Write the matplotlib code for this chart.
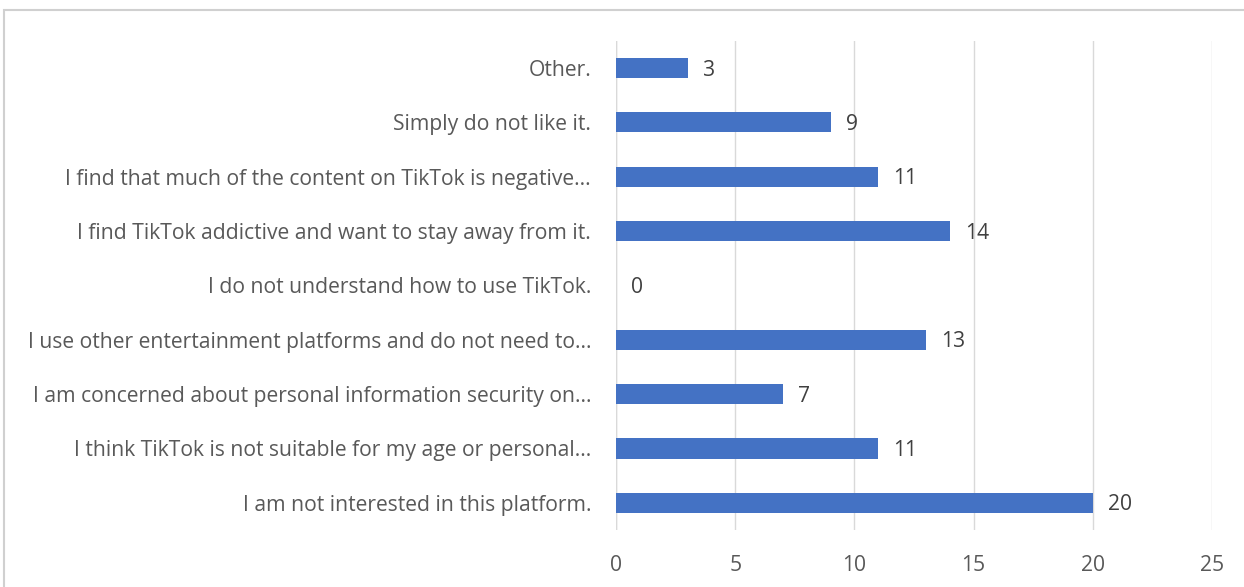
import matplotlib
matplotlib.use("Agg")
import matplotlib.pyplot as plt
from matplotlib.patches import Rectangle

categories = [
    "I am not interested in this platform.",
    "I think TikTok is not suitable for my age or personal...",
    "I am concerned about personal information security on...",
    "I use other entertainment platforms and do not need to...",
    "I do not understand how to use TikTok.",
    "I find TikTok addictive and want to stay away from it.",
    "I find that much of the content on TikTok is negative...",
    "Simply do not like it.",
    "Other.",
]
values = [20, 11, 7, 13, 0, 14, 11, 9, 3]
xticks = [0, 5, 10, 15, 20, 25]

plt.rcParams['font.family'] = ['Open Sans', 'DejaVu Sans']
fig = plt.figure(figsize=(12.44, 5.87), dpi=100)
ax = fig.add_axes([0.4952, 0.0971, 0.4791, 0.8334])

FS = 15.2
ypos = list(range(len(categories)))
ax.barh(ypos, values, height=0.37, color="#4472C4", zorder=3)
ax.set_xlim(0, 25)
ax.set_ylim(-0.5, len(categories) - 0.5)
ax.set_yticks(ypos)
ax.set_yticklabels(categories, fontsize=FS, color="#595959")
ax.set_xticks(xticks)
ax.set_xticklabels([str(t) for t in xticks], fontsize=FS, color="#595959")
ax.tick_params(axis='both', length=0)
ax.tick_params(axis='y', pad=18)
ax.tick_params(axis='x', pad=18)
ax.grid(axis='x', color="#d9d9d9", linewidth=1, zorder=0)
for s in ax.spines.values():
    s.set_visible(False)
ax.axvline(0, color="#d9d9d9", linewidth=1, zorder=1)

for y, v in zip(ypos, values):
    ax.annotate(str(v), (v, y), xytext=(11, -1.5), textcoords='offset points',
                va='center', ha='left', fontsize=FS, color="#404040")

fig.patches.append(Rectangle((0.003, -0.1), 1.1, 1.083, transform=fig.transFigure,
                             fill=False, edgecolor="#d0d0d0", linewidth=1.5))

fig.savefig("out.png", dpi=100)
